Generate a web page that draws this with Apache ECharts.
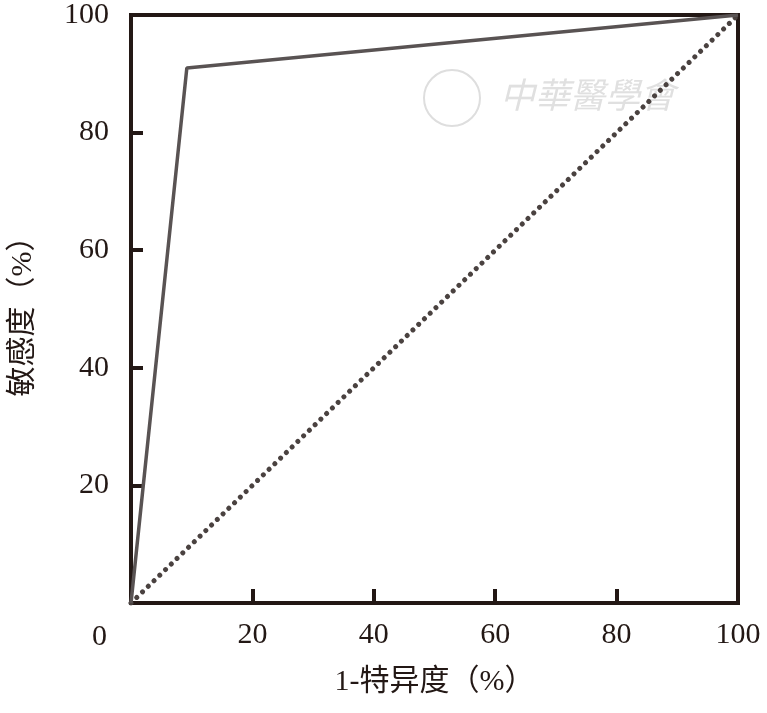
<!DOCTYPE html>
<html>
<head>
<meta charset="utf-8">
<script src="https://cdn.jsdelivr.net/npm/echarts@6/dist/echarts.min.js"></script>
<style>
  html, body { margin: 0; padding: 0; background: #fff; }
  #chart { width: 767px; height: 713px; }
</style>
</head>
<body>
<div id="chart"></div>
<script>
// ROC curve points: [1-specificity %, sensitivity %]
const rocPoints = [[0, 0], [9.2, 91], [100, 100]]
// reference line
const diagonal = [[0, 0], [100, 100]]
const tickValues = [0, 20, 40, 60, 80, 100]

const serif = '"Liberation Serif", "Noto Sans CJK SC", serif'
const frameColor = '#231815'

const chart = echarts.init(document.getElementById('chart'))

chart.setOption({
  animation: false,
  grid: {
    left: 130,
    right: 29,
    top: 14,
    bottom: 110,
    show: true,
    borderColor: frameColor,
    borderWidth: 4
  },
  xAxis: {
    type: 'value',
    min: 0,
    max: 100,
    interval: 20,
    name: '1-特异度（%）',
    nameLocation: 'middle',
    nameGap: 64,
    nameTextStyle: { fontFamily: serif, fontSize: 30, color: '#231815' },
    axisLine: { show: true, lineStyle: { color: frameColor, width: 4 } },
    axisTick: { show: true, inside: true, length: 14, lineStyle: { color: frameColor, width: 4 } },
    axisLabel: {
      margin: 17,
      fontFamily: serif,
      fontSize: 30,
      color: '#231815',
      formatter: v => (v === 0 ? '' : v)
    },
    splitLine: { show: false }
  },
  yAxis: {
    type: 'value',
    min: 0,
    max: 100,
    interval: 20,
    name: '敏感度（%）',
    nameLocation: 'middle',
    nameGap: 93,
    nameRotate: 90,
    nameTextStyle: { fontFamily: serif, fontSize: 30, color: '#231815' },
    axisLine: { show: true, lineStyle: { color: frameColor, width: 4 } },
    axisTick: { show: true, inside: true, length: 12, lineStyle: { color: frameColor, width: 4 } },
    axisLabel: {
      margin: 22,
      fontFamily: serif,
      fontSize: 30,
      color: '#231815',
      formatter: v => (v === 0 ? '' : v)
    },
    splitLine: { show: false }
  },
  graphic: [
    {
      type: 'text',
      left: 92,
      top: 622,
      style: { text: String(tickValues[0]), font: '30px ' + serif, fill: '#231815' }
    },
    {
      type: 'circle',
      shape: { cx: 452, cy: 98, r: 28 },
      style: { fill: 'none', stroke: '#dedede', lineWidth: 2 },
      z: 0
    },
    {
      type: 'text',
      left: 500,
      top: 77,
      style: {
        text: '中華醫學會',
        font: 'italic 35px "Noto Sans CJK TC", sans-serif',
        fill: '#e0e0e0',
        letterSpacing: 10
      },
      z: 0
    }
  ],
  series: [
    {
      type: 'line',
      data: diagonal,
      symbol: 'none',
      lineStyle: { color: '#4a4240', width: 5, type: [0.01, 8], cap: 'round' },
      z: 3
    },
    {
      type: 'line',
      data: rocPoints,
      symbol: 'none',
      lineStyle: { color: '#595353', width: 3.5 },
      z: 4
    }
  ]
})
</script>
</body>
</html>
